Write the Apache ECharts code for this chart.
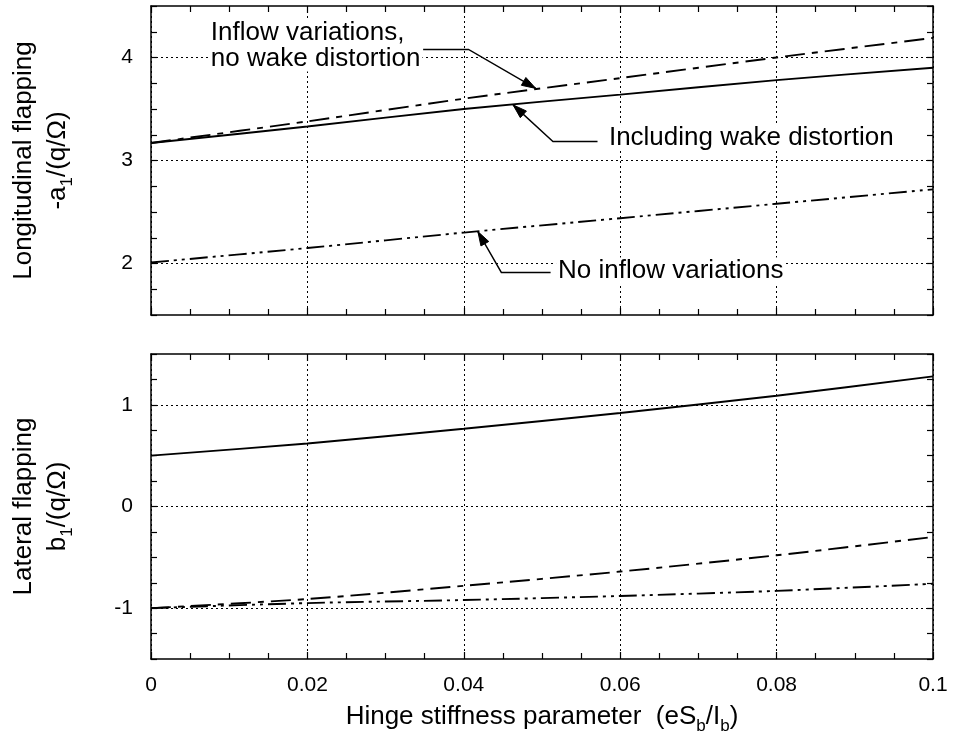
<!DOCTYPE html>
<html>
<head>
<meta charset="utf-8">
<script src="https://cdn.jsdelivr.net/npm/echarts@6/dist/echarts.min.js"></script>
<style>
html,body{margin:0;padding:0;background:#fff;}
#chart{width:953px;height:745px;}
</style>
</head>
<body>
<div id="chart"></div>
<script>
// ---- data ----
const xValues = [0, 0.02, 0.04, 0.06, 0.08, 0.1];
const xTickLabels = ['0', '0.02', '0.04', '0.06', '0.08', '0.1'];
// Longitudinal flapping -a1/(q/Ω)
const topIncludingWake = [3.17, 3.33, 3.50, 3.64, 3.78, 3.90];
const topNoWakeDistortion = [3.17, 3.38, 3.60, 3.80, 4.00, 4.19];
const topNoInflow = [2.01, 2.15, 2.30, 2.44, 2.58, 2.72];
// Lateral flapping b1/(q/Ω)
const botIncludingWake = [0.50, 0.62, 0.765, 0.92, 1.09, 1.28];
const botNoWakeDistortion = [-1.00, -0.91, -0.78, -0.64, -0.48, -0.30];
const botNoInflow = [-1.00, -0.95, -0.92, -0.88, -0.83, -0.76];
// y tick values (gridlines / labels)
const topYTicks = [2, 3, 4];
const botYTicks = [-1, 0, 1];
// annotations (data coordinates of the top panel)
const annotations = [
  { text: 'Inflow variations,\nno wake distortion', at: [0.0074, 4.117], path: [[0.0348, 4.078], [0.0406, 4.078], [0.0492, 3.70]] },
  { text: 'Including wake distortion', at: [0.0583, 3.223], path: [[0.0571, 3.184], [0.0514, 3.184], [0.0463, 3.54]] },
  { text: 'No inflow variations', at: [0.0518, 1.932], path: [[0.0511, 1.913], [0.0448, 1.913], [0.0418, 2.31]] }
];

const FONT = 'Liberation Sans, Arial, Helvetica, sans-serif';
const pair = arr => xValues.map((x, i) => [x, arr[i]]);

const solid = { type: 'solid', width: 1.9, color: '#000' };
const dashed = { type: [20, 7, 6, 7], width: 1.9, color: '#000' };
const dashDotDot = { type: [18, 5, 3, 5, 3, 5], width: 1.9, color: '#000' };
const gridDot = { type: [2, 3], width: 1, color: '#000' };

function xAxisCfg(gridIndex, position, showLabels) {
  return {
    type: 'value', gridIndex, position, min: 0, max: 0.1, interval: 0.02,
    axisLine: { show: true, onZero: false, lineStyle: { color: '#000', width: 1.5 } },
    axisTick: { show: true, inside: true, length: 7, lineStyle: { color: '#000', width: 1.2 } },
    minorTick: { show: true, splitNumber: 4, length: 6, lineStyle: { color: '#000', width: 1.2 } },
    splitLine: { show: position === 'bottom', lineStyle: gridDot },
    axisLabel: {
      show: showLabels, margin: 16, fontSize: 21, fontFamily: FONT, color: '#000',
      formatter: v => { const i = Math.round(v / 0.02); return xTickLabels[i] !== undefined ? xTickLabels[i] : ''; }
    }
  };
}
function yAxisCfg(gridIndex, position, min, max, showLabels, extra) {
  return Object.assign({
    type: 'value', gridIndex, position, min, max, interval: 0.25,
    axisLine: { show: true, onZero: false, lineStyle: { color: '#000', width: 1.5 } },
    axisTick: { show: true, inside: true, length: 6, lineStyle: { color: '#000', width: 1.2 } },
    splitLine: { show: false },
    axisLabel: {
      show: showLabels, margin: 18, fontSize: 21, fontFamily: FONT, color: '#000',
      formatter: v => (Math.abs(v - Math.round(v)) < 1e-9 ? String(Math.round(v)) : '')
    }
  }, extra || {});
}
const nameRich = {
  sub: { fontSize: 17, fontFamily: FONT, color: '#000', verticalAlign: 'bottom', lineHeight: 36 }
};

const option = {
  animation: false,
  backgroundColor: '#fff',
  grid: [
    { left: 149, top: 6, width: 784, height: 309 },
    { left: 149, top: 354, width: 784, height: 305 }
  ],
  xAxis: [
    xAxisCfg(0, 'bottom', false),
    xAxisCfg(0, 'top', false),
    Object.assign(xAxisCfg(1, 'bottom', true), {
      name: 'Hinge stiffness parameter  (eS{sub|b}/I{sub|b})',
      nameLocation: 'middle', nameGap: 40,
      nameTextStyle: { fontSize: 26, fontFamily: FONT, color: '#000', lineHeight: 30, rich: nameRich }
    }),
    xAxisCfg(1, 'top', false)
  ],
  yAxis: [
    yAxisCfg(0, 'left', 1.5, 4.5, true, {
      name: 'Longitudinal flapping\n-a{sub|1}/(q/Ω)', nameLocation: 'middle', nameGap: 75, nameRotate: 90,
      nameTextStyle: { fontSize: 26, fontFamily: FONT, color: '#000', lineHeight: 32, rich: nameRich }
    }),
    yAxisCfg(0, 'right', 1.5, 4.5, false),
    yAxisCfg(1, 'left', -1.5, 1.5, true, {
      name: 'Lateral flapping\nb{sub|1}/(q/Ω)', nameLocation: 'middle', nameGap: 75, nameRotate: 90,
      nameTextStyle: { fontSize: 26, fontFamily: FONT, color: '#000', lineHeight: 32, rich: nameRich }
    }),
    yAxisCfg(1, 'right', -1.5, 1.5, false)
  ],
  series: [
    {
      name: 'grid-top', type: 'line', xAxisIndex: 0, yAxisIndex: 0, data: [], z: 1,
      markLine: { silent: true, symbol: ['none', 'none'], label: { show: false }, lineStyle: gridDot,
        data: topYTicks.map(v => ({ yAxis: v })) }
    },
    {
      name: 'grid-bot', type: 'line', xAxisIndex: 2, yAxisIndex: 2, data: [], z: 1,
      markLine: { silent: true, symbol: ['none', 'none'], label: { show: false }, lineStyle: gridDot,
        data: botYTicks.map(v => ({ yAxis: v })) }
    },
    { name: 'Including wake distortion', type: 'line', xAxisIndex: 0, yAxisIndex: 0, data: pair(topIncludingWake), showSymbol: false, smooth: 0.3, lineStyle: solid, z: 3 },
    { name: 'Inflow variations, no wake distortion', type: 'line', xAxisIndex: 0, yAxisIndex: 0, data: pair(topNoWakeDistortion), showSymbol: false, smooth: 0.3, lineStyle: dashed, z: 3 },
    { name: 'No inflow variations', type: 'line', xAxisIndex: 0, yAxisIndex: 0, data: pair(topNoInflow), showSymbol: false, smooth: 0.3, lineStyle: dashDotDot, z: 3 },
    { name: 'Including wake distortion (lateral)', type: 'line', xAxisIndex: 2, yAxisIndex: 2, data: pair(botIncludingWake), showSymbol: false, smooth: 0.3, lineStyle: solid, z: 3 },
    { name: 'No wake distortion (lateral)', type: 'line', xAxisIndex: 2, yAxisIndex: 2, data: pair(botNoWakeDistortion), showSymbol: false, smooth: 0.3, lineStyle: dashed, z: 3 },
    { name: 'No inflow variations (lateral)', type: 'line', xAxisIndex: 2, yAxisIndex: 2, data: pair(botNoInflow), showSymbol: false, smooth: 0.3, lineStyle: dashDotDot, z: 3 }
  ]
};

const chart = echarts.init(document.getElementById('chart'), null, { renderer: 'canvas' });
chart.setOption(option);

// annotations positioned through the chart's own coordinate conversion
const toPx = p => chart.convertToPixel({ xAxisIndex: 0, yAxisIndex: 0 }, p);
const graphics = [];
annotations.forEach(a => {
  const pts = a.path.map(toPx);
  graphics.push({
    type: 'polyline', z: 50, silent: true,
    shape: { points: pts },
    style: { stroke: '#000', lineWidth: 1.4, fill: null }
  });
  const tip = pts[pts.length - 1], prev = pts[pts.length - 2];
  let dx = tip[0] - prev[0], dy = tip[1] - prev[1];
  const len = Math.hypot(dx, dy); dx /= len; dy /= len;
  const L = 14, W = 4.5;
  const bx = tip[0] - dx * L, by = tip[1] - dy * L;
  graphics.push({
    type: 'polygon', z: 51, silent: true,
    shape: { points: [tip, [bx - dy * W, by + dx * W], [bx + dy * W, by - dx * W]] },
    style: { fill: '#000', stroke: '#000', lineWidth: 1 }
  });
  const t = toPx(a.at);
  graphics.push({
    type: 'text', z: 52, silent: true, x: t[0], y: t[1],
    style: {
      text: a.text, fontSize: 26, fontFamily: FONT, fill: '#000', lineHeight: 26,
      align: 'left', verticalAlign: 'middle', backgroundColor: '#fff', padding: [0, 2]
    }
  });
});
chart.setOption({ graphic: graphics });
</script>
</body>
</html>
